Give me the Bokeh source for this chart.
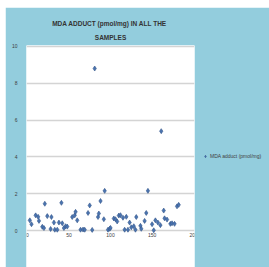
from bokeh.plotting import figure
from bokeh.models import Range1d, FixedTicker, Legend, LegendItem, Title
from bokeh.embed import file_html
from bokeh.resources import INLINE

# Data (sample number vs MDA adduct pmol/mg)
sample_no = [3, 5, 10, 13, 14, 18, 20, 21, 24, 28, 29, 32, 33, 36, 38, 41, 42, 44, 46, 48,
             54, 57, 58, 60, 64, 67, 69, 73, 75, 78, 81, 85, 86, 88, 92, 93, 97, 99, 100,
             104, 106, 108, 110, 112, 115, 117, 119, 121, 123, 125, 128, 130, 131, 136, 137,
             141, 143, 145, 150, 152, 154, 157, 160, 161, 164, 165, 168, 172, 174, 177, 180, 182]
mda = [0.56, 0.35, 0.83, 0.75, 0.53, 0.21, 0.14, 1.46, 0.79, 0.09, 0.74, 0.44, 0.05, 0.05, 0.44,
       1.51, 0.40, 0.14, 0.24, 0.22, 0.74, 0.83, 1.02, 0.56, 0.05, 0.06, 0.05, 0.96, 1.37, 0.04,
       8.8, 0.74, 0.93, 1.61, 0.62, 2.16, 0.05, 0.10, 0.15, 0.66, 0.62, 0.50, 0.82, 0.84, 0.70,
       0.05, 0.75, 0.05, 0.44, 0.18, 0.24, 0.05, 0.74, 0.26, 0.10, 0.53, 0.96, 2.16, 0.35, 0.02,
       0.56, 0.44, 0.30, 5.4, 1.09, 0.67, 0.60, 0.37, 0.40, 0.37, 1.32, 1.40]
y_ticks = [0, 2, 4, 6, 8, 10]
x_ticks = [0, 50, 100, 150, 200]
series_name = "MDA adduct (pmol/mg)"
title_line1 = "MDA ADDUCT  (pmol/mg) IN ALL THE"
title_line2 = "SAMPLES"

BG = "#93CDDD"

p = figure(frame_width=168, frame_height=222, output_backend="svg", toolbar_location=None,
           x_range=Range1d(-1, 201), y_range=Range1d(-2.0, 10.05),
           x_axis_location="above",
           min_border_left=21, min_border_top=38, min_border_right=75, min_border_bottom=0,
           title=None)
p.margin = (7, 0, 0, 5)
p.border_fill_color = BG
p.background_fill_color = "white"
p.outline_line_color = None

r = p.scatter(sample_no, mda, marker="diamond", size=5,
              fill_color="#4A74B0", line_color="#34558A", line_width=0.6)

p.xgrid.grid_line_color = None
p.ygrid.ticker = FixedTicker(ticks=y_ticks)
p.ygrid.grid_line_color = "#D4D4D4"
p.ygrid.grid_line_width = 1.5

p.yaxis.ticker = FixedTicker(ticks=y_ticks)
p.xaxis.ticker = FixedTicker(ticks=x_ticks)
for ax in (p.xaxis, p.yaxis):
    ax.axis_line_color = None
    ax.major_tick_line_color = None
    ax.minor_tick_line_color = None
    ax.major_label_text_font_size = "5px"
    ax.major_label_text_color = "#404040"
    ax.major_label_text_font = "Liberation Sans"
p.yaxis.major_label_standoff = 3
# x labels sit just under the zero line, inside the white plot area
p.xaxis.fixed_location = -0.85
p.xaxis.major_label_standoff = 3

for txt, so in ((title_line2, 5), (title_line1, 6)):
    p.add_layout(Title(text=txt, align="center", vertical_align="top", text_font_size="6.5px",
                       text_font_style="bold", text_color="#333333",
                       text_font="Liberation Sans", standoff=so), "above")

legend = Legend(items=[LegendItem(label=series_name, renderers=[r])], location="center_left",
                label_text_font_size="5px", label_text_color="#404040",
                label_text_font="Liberation Sans",
                glyph_width=6, glyph_height=6, label_standoff=2, padding=1, margin=8,
                border_line_color=None, background_fill_alpha=0)
p.add_layout(legend, "right")

open("out.html", "w").write(file_html(p, INLINE))
